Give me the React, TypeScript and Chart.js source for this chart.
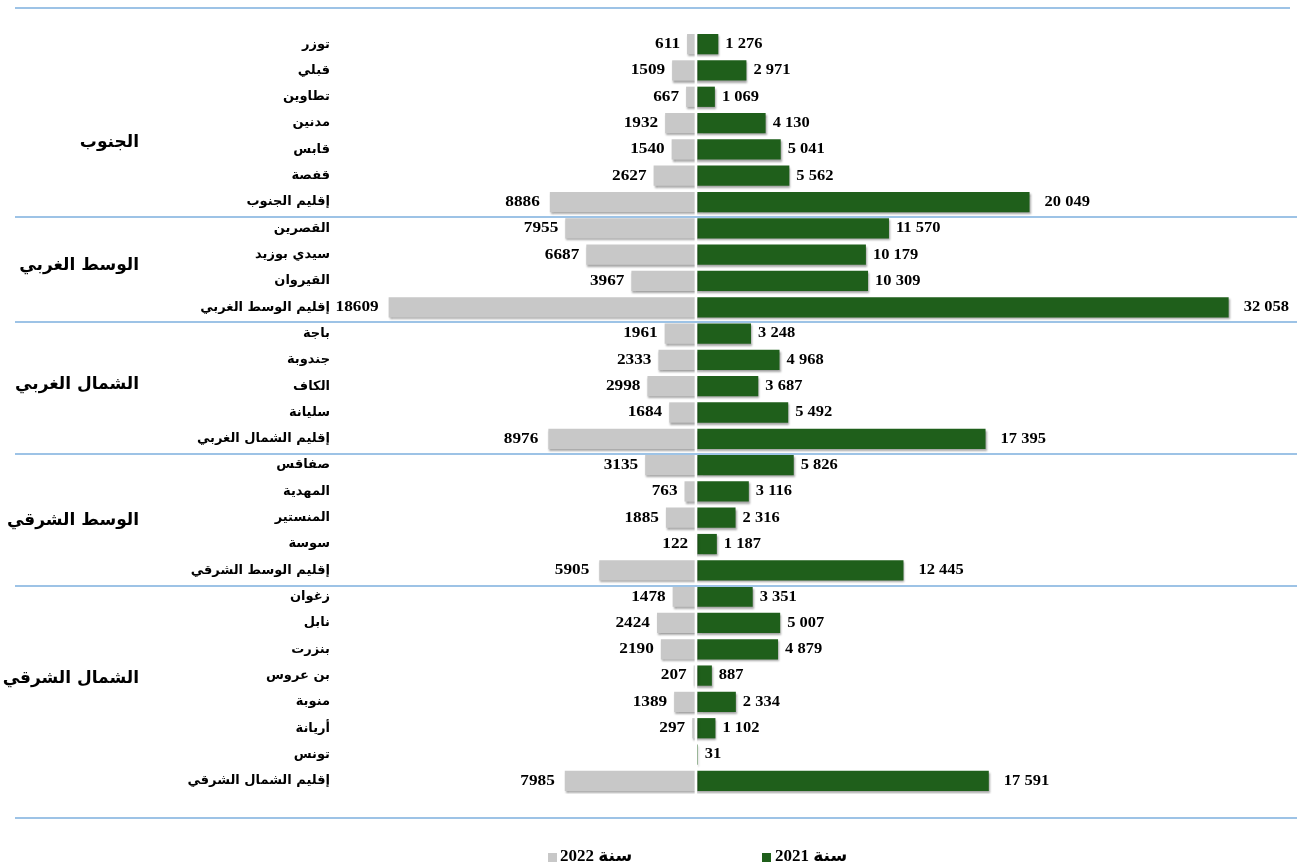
import React, { useEffect, useRef } from "react";
import { Chart, registerables } from "chart.js";

Chart.register(...registerables);

const categories = [
  "توزر", "قبلي", "تطاوين", "مدنين", "قابس", "قفصة", "إقليم الجنوب",
  "القصرين", "سيدي بوزيد", "القيروان", "إقليم الوسط الغربي",
  "باجة", "جندوبة", "الكاف", "سليانة", "إقليم الشمال الغربي",
  "صفاقس", "المهدية", "المنستير", "سوسة", "إقليم الوسط الشرقي",
  "زغوان", "نابل", "بنزرت", "بن عروس", "منوبة", "أريانة", "تونس", "إقليم الشمال الشرقي",
];

const values2022 = [
  611, 1509, 667, 1932, 1540, 2627, 8886,
  7955, 6687, 3967, 18609,
  1961, 2333, 2998, 1684, 8976,
  3135, 763, 1885, 122, 5905,
  1478, 2424, 2190, 207, 1389, 297, 0, 7985,
];

const values2021 = [
  1276, 2971, 1069, 4130, 5041, 5562, 20049,
  11570, 10179, 10309, 32058,
  3248, 4968, 3687, 5492, 17395,
  5826, 3116, 2316, 1187, 12445,
  3351, 5007, 4879, 887, 2334, 1102, 31, 17591,
];

const regionNames = ["الجنوب", "الوسط الغربي", "الشمال الغربي", "الوسط الشرقي", "الشمال الشرقي"];
const regionStart = [0, 7, 11, 16, 21];
const regionEnd = [6, 10, 15, 20, 28];

const legendLabels = ["سنة 2022", "سنة 2021"];

const GRAY = "#C8C8C8";
const GREEN = "#1F5F1B";
const LINE = "#9DC3E6";

const fmtSpace = (v: number) => String(v).replace(/\B(?=(\d{3})+(?!\d))/g, " ");

export default function App() {
  const ref = useRef<HTMLCanvasElement>(null);

  useEffect(() => {
    if (!ref.current) return;
    const totals = new Set(regionEnd);

    const stretchText = (ctx: any, text: string, x: number, y: number, align: "left" | "right", sx: number) => {
      ctx.save();
      ctx.translate(x, y);
      ctx.scale(sx, 1);
      ctx.textAlign = align;
      ctx.fillText(text, 0, 0);
      ctx.restore();
    };

    const decor = {
      id: "decor",
      beforeDatasetsDraw(chart: any) {
        const ctx = chart.ctx;
        ctx.save();
        ctx.shadowColor = "rgba(0,0,0,0.35)";
        ctx.shadowOffsetX = 1;
        ctx.shadowOffsetY = 2;
        ctx.shadowBlur = 2;
      },
      afterDatasetsDraw(chart: any) {
        const ctx = chart.ctx;
        ctx.restore();
        // small gap at zero on the 2022 side
        const x0 = chart.scales.x.getPixelForValue(0);
        ctx.save();
        ctx.fillStyle = "#fff";
        ctx.fillRect(x0 - 2.5, chart.chartArea.top, 2.5, chart.chartArea.bottom - chart.chartArea.top);
        ctx.restore();
      },
      afterDraw(chart: any) {
        const ctx = chart.ctx;
        const y = chart.scales.y;
        ctx.save();
        // separator lines
        ctx.strokeStyle = LINE;
        ctx.lineWidth = 2;
        const hline = (yy: number, x0: number, x1: number) => {
          ctx.beginPath();
          ctx.moveTo(x0, yy);
          ctx.lineTo(x1, yy);
          ctx.stroke();
        };
        hline(Math.round(y.top) - 23, 15, 1290);
        for (let k = 0; k < regionEnd.length - 1; k++) {
          const yy = (y.getPixelForValue(regionEnd[k]) + y.getPixelForValue(regionEnd[k] + 1)) / 2 + 2;
          hline(Math.round(yy), 15, 1297);
        }
        hline(Math.round(y.bottom) + 24, 15, 1297);

        // region labels
        const labelRow = [3.75, 8.4, 12.95, 18.1, 24.1];
        ctx.fillStyle = "#000";
        ctx.font = "bold 17px 'DejaVu Sans'";
        ctx.textBaseline = "middle";
        ctx.direction = "rtl";
        ctx.textAlign = "right";
        regionNames.forEach((n, i) => {
          ctx.fillText(n, 139, y.getPixelForValue(labelRow[i]));
        });

        // data labels
        ctx.direction = "ltr";
        ctx.font = "bold 15px 'Liberation Serif'";
        const m0 = chart.getDatasetMeta(0);
        const m1 = chart.getDatasetMeta(1);
        m0.data.forEach((el: any, i: number) => {
          const v = values2022[i];
          if (!v) return;
          stretchText(ctx, String(v), el.x - (totals.has(i) ? 10 : 7), el.y, "right", 1.15);
        });
        m1.data.forEach((el: any, i: number) => {
          const v = values2021[i];
          stretchText(ctx, fmtSpace(v), el.x + (totals.has(i) ? 15 : 7), el.y, "left", 1.1);
        });

        // legend
        ctx.font = "bold 17px 'Liberation Serif', 'DejaVu Sans'";
        ctx.direction = "rtl";
        ctx.textAlign = "left";
        const ly = 857;
        ctx.fillStyle = GRAY;
        ctx.fillRect(548, ly - 4, 9, 9);
        ctx.fillStyle = GREEN;
        ctx.fillRect(762, ly - 4, 9, 9);
        ctx.fillStyle = "#000";
        ctx.fillText(legendLabels[0], 560, ly);
        ctx.fillText(legendLabels[1], 775, ly);
        ctx.restore();
      },
    };

    const chart = new Chart(ref.current, {
      type: "bar",
      data: {
        labels: categories,
        datasets: [
          {
            label: legendLabels[0],
            data: values2022.map((v) => -v),
            backgroundColor: GRAY,
            barPercentage: 0.77,
            categoryPercentage: 1,
          },
          {
            label: legendLabels[1],
            data: values2021,
            backgroundColor: GREEN,
            barPercentage: 0.77,
            categoryPercentage: 1,
          },
        ],
      },
      options: {
        indexAxis: "y",
        responsive: false,
        animation: false,
        layout: { padding: { left: 0, right: 6, top: 31, bottom: 73 } },
        plugins: {
          legend: { display: false },
          tooltip: { enabled: false },
        },
        scales: {
          x: {
            display: false,
            stacked: true,
            min: -21000,
            max: 36000,
          },
          y: {
            stacked: true,
            grid: { display: false, drawTicks: false },
            border: { display: false },
            ticks: {
              color: "#000",
              padding: 19,
              font: { family: "'DejaVu Sans'", weight: "bold", size: 13 },
            },
            afterFit(scale: any) {
              scale.width = 349;
            },
          },
        },
      },
      plugins: [decor],
    } as any);

    return () => chart.destroy();
  }, []);

  return (
    <canvas
      ref={ref}
      width={1300}
      height={867}
      style={{ position: "absolute", left: 0, top: 0, display: "block", background: "#fff" }}
    />
  );
}
